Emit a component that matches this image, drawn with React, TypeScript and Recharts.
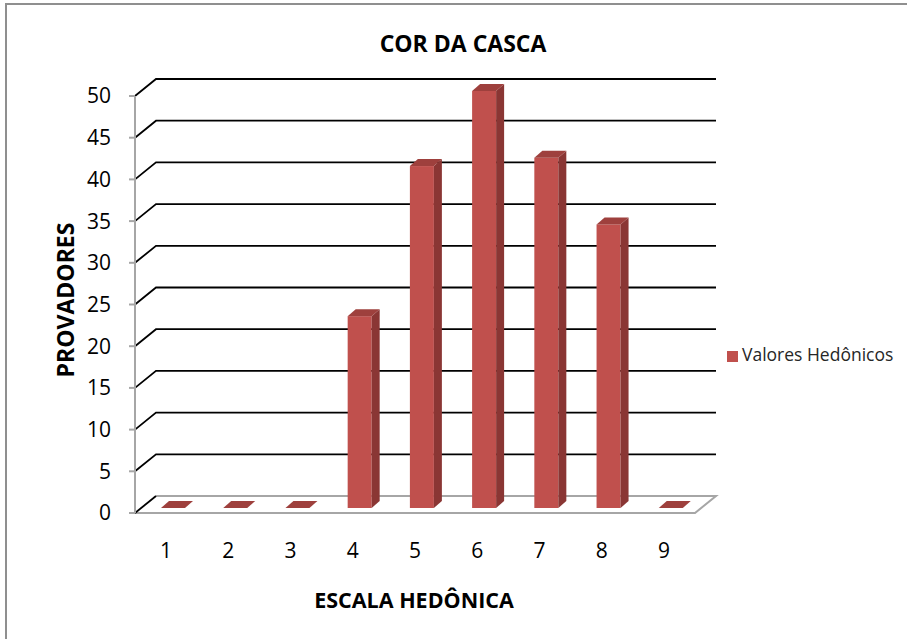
import { Bar, BarChart, CartesianGrid, Legend, XAxis, YAxis } from "recharts";

const categories = ["1", "2", "3", "4", "5", "6", "7", "8", "9"];
const provadores = [0, 0, 0, 23, 41, 50, 42, 34, 0];
const yTicks = [0, 5, 10, 15, 20, 25, 30, 35, 40, 45, 50];
const gridValues = [5, 10, 15, 20, 25, 30, 35, 40, 45, 50];

const data = categories.map((c, i) => ({ escala: c, valor: provadores[i] }));

// 3d look: back wall offset and bar depth
const WALL_DX = 21;
const WALL_DY = 17;
const BAR_SHIFT_X = 7;
const BAR_SHIFT_Y = 5;
const DEPTH_X = 8;
const DEPTH_Y = 7;

const FRONT = "#C0504D";
const SIDE = "#8A3634";
const TOP = "#9E403D";
const AXIS_GRAY = "#A6A6A6";
const FONT = "'Open Sans', Lato, sans-serif";

function WallLine(props: any) {
  const { x1, y1, x2, index } = props;
  return (
    <path
      key={`wall-${index}`}
      d={`M${x1},${y1} L${x1 + WALL_DX},${y1 - WALL_DY} L${x2 + WALL_DX},${y1 - WALL_DY}`}
      fill="none"
      stroke="#000"
      strokeWidth={1.8}
    />
  );
}

function FloorLine(props: any) {
  const { x1, y1, x2, index } = props;
  const by = y1 - WALL_DY;
  return (
    <g key={`floor-${index}`}>
      <polygon
        points={`${x1},${y1} ${x2},${y1} ${x2 + WALL_DX},${by} ${x1 + WALL_DX},${by}`}
        fill="#fff"
        stroke="none"
      />
      <path
        d={`M${x1 + WALL_DX},${by} L${x2 + WALL_DX},${by} L${x2},${y1} L${x1},${y1}`}
        fill="none"
        stroke={AXIS_GRAY}
        strokeWidth={2}
      />
      <path d={`M${x1},${y1} L${x1 + WALL_DX},${by}`} stroke="#000" strokeWidth={1.8} />
    </g>
  );
}

function Bar3D(props: any) {
  const { x, y, width, height } = props;
  const fx = x + BAR_SHIFT_X;
  const fy = y - BAR_SHIFT_Y;
  const h = Math.max(height || 0, 0);
  return (
    <g>
      {h > 0 && <rect x={fx} y={fy} width={width} height={h} fill={FRONT} />}
      {h > 0 && (
        <polygon
          points={`${fx + width},${fy} ${fx + width + DEPTH_X},${fy - DEPTH_Y} ${fx + width + DEPTH_X},${fy + h - DEPTH_Y} ${fx + width},${fy + h}`}
          fill={SIDE}
        />
      )}
      <polygon
        points={`${fx},${fy} ${fx + DEPTH_X},${fy - DEPTH_Y} ${fx + width + DEPTH_X},${fy - DEPTH_Y} ${fx + width},${fy}`}
        fill={TOP}
      />
    </g>
  );
}

export default function App() {
  return (
    <div
      style={{
        position: "absolute",
        left: 0,
        top: 0,
        width: 907,
        height: 639,
        overflow: "hidden",
        background: "#fff",
      }}
    >
      <div style={{ position: "absolute", left: 5, top: 3, width: 902, height: 2, background: "#8F8F8F" }} />
      <div style={{ position: "absolute", left: 5, top: 3, width: 2, height: 636, background: "#8F8F8F" }} />
      <BarChart
        width={907}
        height={639}
        data={data}
        margin={{ top: 96, right: 32, bottom: 96, left: 30 }}
        style={{ fontFamily: FONT }}
      >
        <CartesianGrid horizontalValues={[0]} vertical={false} horizontal={FloorLine} />
        <CartesianGrid horizontalValues={gridValues} vertical={false} horizontal={WallLine} />
        <XAxis
          dataKey="escala"
          axisLine={false}
          tickLine={false}
          tickSize={0}
          tickMargin={30}
          tick={{ fill: "#000", fontSize: 21, fontFamily: FONT }}
        />
        <YAxis
          width={105}
          domain={[0, 50]}
          ticks={yTicks}
          interval={0}
          axisLine={{ stroke: AXIS_GRAY, strokeWidth: 2 }}
          tickLine={{ stroke: AXIS_GRAY, strokeWidth: 2 }}
          tickSize={6}
          tickMargin={18}
          tick={{ fill: "#000", fontSize: 21, fontFamily: FONT }}
        />
        <Legend
          layout="vertical"
          align="right"
          verticalAlign="middle"
          iconType="square"
          iconSize={11}
          wrapperStyle={{
            left: 727,
            top: 342,
            width: 180,
            whiteSpace: "nowrap",
            fontFamily: FONT,
            fontSize: 17.5,
          }}
          formatter={(value: string) => <span style={{ color: "#262626" }}>{value}</span>}
        />
        <Bar
          dataKey="valor"
          name="Valores Hedônicos"
          fill={FRONT}
          barSize={24}
          shape={Bar3D}
          isAnimationActive={false}
        />
      </BarChart>
      <svg
        width={907}
        height={639}
        style={{ position: "absolute", left: 0, top: 0, pointerEvents: "none" }}
      >
        <text x={463} y={52} textAnchor="middle" fontFamily={FONT} fontWeight="bold" fontSize={23} fill="#000">
          COR DA CASCA
        </text>
        <text x={414} y={608} textAnchor="middle" fontFamily={FONT} fontWeight="bold" fontSize={21.5} fill="#000">
          ESCALA HEDÔNICA
        </text>
        <text
          x={0}
          y={0}
          transform="translate(74 300) rotate(-90)"
          textAnchor="middle"
          fontFamily={FONT}
          fontWeight="bold"
          fontSize={23}
          fill="#000"
        >
          PROVADORES
        </text>
      </svg>
    </div>
  );
}
